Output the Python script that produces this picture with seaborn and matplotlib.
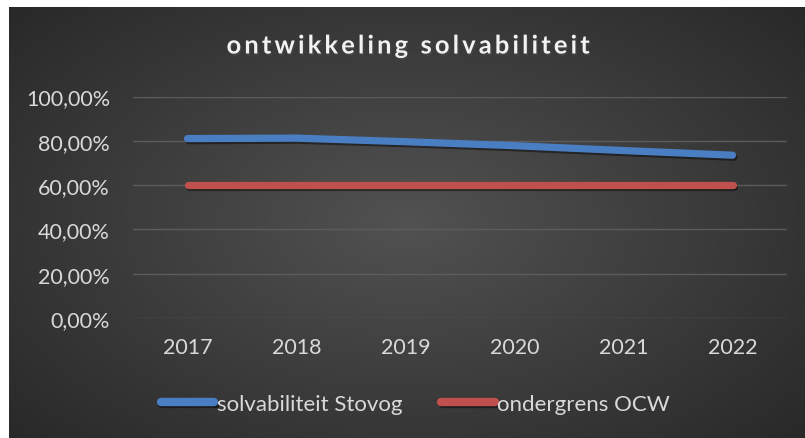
import numpy as np
import pandas as pd
import matplotlib
matplotlib.use("Agg")
import matplotlib.pyplot as plt
import matplotlib.patheffects as pe
from matplotlib.ticker import FuncFormatter
import seaborn as sns

years = ["2017", "2018", "2019", "2020", "2021", "2022"]
solvabiliteit = [0.810, 0.812, 0.796, 0.778, 0.756, 0.735]
ondergrens = [0.60, 0.60, 0.60, 0.60, 0.60, 0.60]
series_names = ["solvabiliteit Stovog", "ondergrens OCW"]
yticks = [0.0, 0.2, 0.4, 0.6, 0.8, 1.0]
title = "ontwikkeling solvabiliteit"

df = pd.DataFrame({
    "jaar": years * 2,
    "waarde": solvabiliteit + ondergrens,
    "reeks": [series_names[0]] * len(years) + [series_names[1]] * len(years),
})

sns.set_style("white")
plt.rcParams['font.family'] = ['Lato', 'DejaVu Sans']

fig = plt.figure(figsize=(8.05, 4.39), dpi=100)
fig.patch.set_facecolor("white")

# dark radial gradient background (chart area)
bg = fig.add_axes([9 / 805, 0, 796 / 805, 431 / 439])
gx, gy = np.meshgrid(np.linspace(-1, 1, 400), np.linspace(-1, 1, 220))
r = np.sqrt((gx / 1.0) ** 2 + (gy / 1.1) ** 2)
shade = 0.32 - 0.16 * np.clip(r / 1.35, 0, 1)
bg.imshow(np.dstack([shade] * 3), aspect="auto", extent=[0, 1, 0, 1])
bg.set_axis_off()

ax = fig.add_axes([133 / 805, 1 - 319 / 439, 654 / 805, 221.5 / 439])
ax.set_facecolor("none")
ax.patch.set_alpha(0)

palette = {series_names[0]: "#4a7ec3", series_names[1]: "#c0504d"}
sns.lineplot(data=df, x="jaar", y="waarde", hue="reeks", palette=palette,
             linewidth=5.2, ax=ax, sort=False, legend=True)
for line in ax.lines:
    line.set_solid_capstyle("round")
    line.set_path_effects([pe.SimpleLineShadow(offset=(1, -1.5), alpha=0.45),
                           pe.Normal()])

ax.set_ylim(0, 1)
ax.set_xlim(-0.5, len(years) - 0.5)
ax.set_yticks(yticks)
ax.yaxis.set_major_formatter(FuncFormatter(lambda v, p: f"{v * 100:.2f}%".replace(".", ",")))
ax.grid(axis="y", color="#5c5c5c", linewidth=1)
ax.set_axisbelow(True)
for s in ax.spines.values():
    s.set_visible(False)
ax.tick_params(axis="both", length=0, labelsize=15.5, colors="#d9d9d9")
ax.tick_params(axis="y", pad=16.5)
ax.tick_params(axis="x", pad=14)
ax.set_xlabel("")
ax.set_ylabel("")

leg = ax.legend(loc="center", bbox_to_anchor=(0.432, -0.387), ncol=2,
                frameon=False, fontsize=16, handlelength=2.4, handletextpad=0.12,
                columnspacing=1.75)
for t in leg.get_texts():
    t.set_color("#d9d9d9")
for h in leg.legend_handles:
    h.set_linewidth(6)
    h.set_solid_capstyle("round")

# Excel-style letter spacing via thin spaces
spaced = "\u2009".join(title)
fig.text(0.506, 1 - 47 / 439, spaced, ha="center", va="center",
         fontsize=18.3, fontweight="bold", color="#f2f2f2",
         path_effects=[pe.withSimplePatchShadow(offset=(1, -1.5), alpha=0.6)])

fig.savefig("out.png", dpi=100)
